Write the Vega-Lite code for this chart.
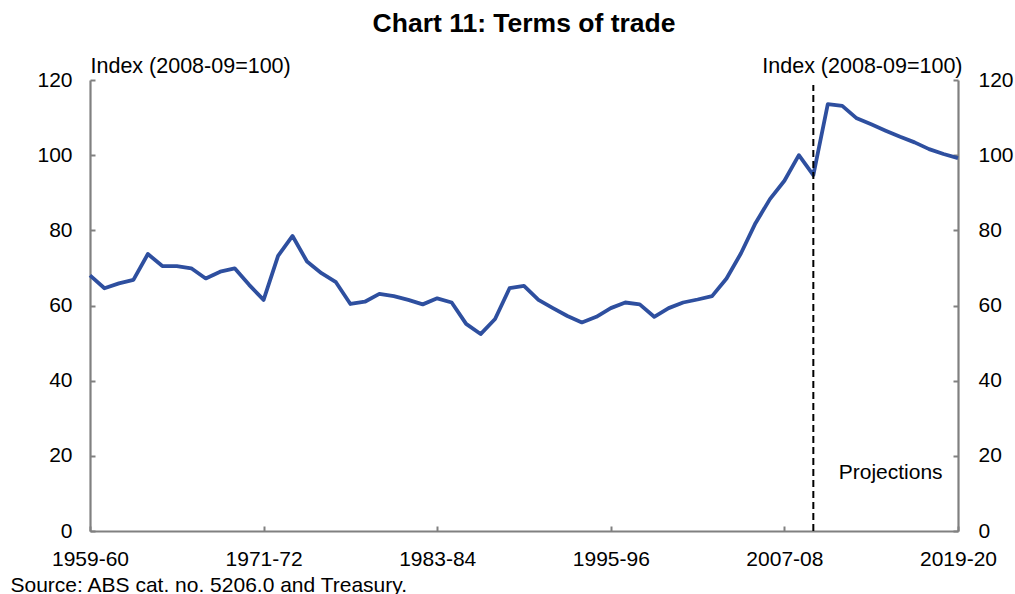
{
  "$schema": "https://vega.github.io/schema/vega-lite/v6.json",
  "width": 868,
  "height": 451,
  "autosize": "none",
  "padding": {"left": 90, "top": 80, "right": 57, "bottom": 63},
  "background": "white",
  "title": {
    "text": "Chart 11: Terms of trade",
    "font": "Liberation Sans",
    "fontSize": 26.5,
    "fontWeight": "bold",
    "color": "#000000",
    "anchor": "middle",
    "frame": "group",
    "baseline": "alphabetic",
    "offset": -3
  },
  "datasets": {
    "tot": [
      {"year": "1959-60", "value": 68.0},
      {"year": "1960-61", "value": 64.6},
      {"year": "1961-62", "value": 65.9},
      {"year": "1962-63", "value": 66.8},
      {"year": "1963-64", "value": 73.7},
      {"year": "1964-65", "value": 70.5},
      {"year": "1965-66", "value": 70.5},
      {"year": "1966-67", "value": 69.9},
      {"year": "1967-68", "value": 67.2},
      {"year": "1968-69", "value": 69.0},
      {"year": "1969-70", "value": 69.9},
      {"year": "1970-71", "value": 65.5},
      {"year": "1971-72", "value": 61.5},
      {"year": "1972-73", "value": 73.2},
      {"year": "1973-74", "value": 78.5},
      {"year": "1974-75", "value": 71.7},
      {"year": "1975-76", "value": 68.6},
      {"year": "1976-77", "value": 66.2},
      {"year": "1977-78", "value": 60.4},
      {"year": "1978-79", "value": 61.0},
      {"year": "1979-80", "value": 63.1},
      {"year": "1980-81", "value": 62.5},
      {"year": "1981-82", "value": 61.5},
      {"year": "1982-83", "value": 60.3},
      {"year": "1983-84", "value": 61.9},
      {"year": "1984-85", "value": 60.8},
      {"year": "1985-86", "value": 55.1},
      {"year": "1986-87", "value": 52.4},
      {"year": "1987-88", "value": 56.4},
      {"year": "1988-89", "value": 64.6},
      {"year": "1989-90", "value": 65.2},
      {"year": "1990-91", "value": 61.5},
      {"year": "1991-92", "value": 59.3},
      {"year": "1992-93", "value": 57.2},
      {"year": "1993-94", "value": 55.5},
      {"year": "1994-95", "value": 57.0},
      {"year": "1995-96", "value": 59.3},
      {"year": "1996-97", "value": 60.8},
      {"year": "1997-98", "value": 60.3},
      {"year": "1998-99", "value": 57.0},
      {"year": "1999-00", "value": 59.3},
      {"year": "2000-01", "value": 60.8},
      {"year": "2001-02", "value": 61.6},
      {"year": "2002-03", "value": 62.5},
      {"year": "2003-04", "value": 67.2},
      {"year": "2004-05", "value": 73.9},
      {"year": "2005-06", "value": 81.9},
      {"year": "2006-07", "value": 88.3},
      {"year": "2007-08", "value": 93.2},
      {"year": "2008-09", "value": 100.0},
      {"year": "2009-10", "value": 94.7},
      {"year": "2010-11", "value": 113.6},
      {"year": "2011-12", "value": 113.1},
      {"year": "2012-13", "value": 109.8},
      {"year": "2013-14", "value": 108.2},
      {"year": "2014-15", "value": 106.5},
      {"year": "2015-16", "value": 104.9},
      {"year": "2016-17", "value": 103.4},
      {"year": "2017-18", "value": 101.6},
      {"year": "2018-19", "value": 100.3},
      {"year": "2019-20", "value": 99.2}
    ],
    "divider": [
      {"year": "2009-10"}
    ],
    "note": [
      {"year": "2014-15", "label": "Projections", "value": 15.4}
    ]
  },
  "layer": [
    {
      "data": {"name": "tot"},
      "mark": {"type": "line", "color": "#2E4F9F", "strokeWidth": 3.8, "strokeJoin": "round"},
      "encoding": {
        "x": {
          "field": "year",
          "type": "ordinal",
          "scale": {"type": "point", "padding": 0},
          "axis": {
            "values": ["1959-60", "1971-72", "1983-84", "1995-96", "2007-08", "2019-20"],
            "labelAngle": 0,
            "labelBaseline": "alphabetic",
            "labelPadding": 39,
            "title": "Source: ABS cat. no. 5206.0 and Treasury.",
            "titleX": -80,
            "titleY": 60,
            "titleAlign": "left",
            "titleAnchor": "start",
            "titleBaseline": "alphabetic",
            "titleFontWeight": "normal"
          }
        },
        "y": {
          "field": "value",
          "type": "quantitative",
          "scale": {"domain": [0, 120], "nice": false},
          "axis": {
            "orient": "left",
            "values": [0, 20, 40, 60, 80, 100, 120],
            "labelPadding": 23,
            "title": "Index (2008-09=100)",
            "titleFontSize": 21.5,
            "titleAngle": 0,
            "titleX": 0,
            "titleY": -8,
            "titleAlign": "left",
            "titleBaseline": "alphabetic",
            "titleFontWeight": "normal"
          }
        }
      }
    },
    {
      "data": {"name": "divider"},
      "mark": {"type": "rule", "color": "#000000", "strokeWidth": 2, "strokeDash": [7, 4]},
      "encoding": {
        "x": {"field": "year", "type": "ordinal"},
        "y": {"datum": 0, "type": "quantitative", "axis": null},
        "y2": {"datum": 118.7}
      }
    },
    {
      "data": {"name": "note"},
      "mark": {"type": "text", "font": "Liberation Sans", "fontSize": 21, "align": "center", "baseline": "middle", "color": "#000000", "dx": 5},
      "encoding": {
        "x": {"field": "year", "type": "ordinal"},
        "text": {"field": "label"},
        "y": {
          "field": "value",
          "type": "quantitative",
          "axis": {
            "orient": "right",
            "values": [0, 20, 40, 60, 80, 100, 120],
            "labelPadding": 25,
            "title": "Index (2008-09=100)",
            "titleFontSize": 21.5,
            "titleAngle": 0,
            "titleX": 4,
            "titleY": -8,
            "titleAlign": "right",
            "titleBaseline": "alphabetic",
            "titleFontWeight": "normal"
          }
        }
      }
    }
  ],
  "resolve": {"scale": {"y": "shared"}, "axis": {"y": "independent"}},
  "config": {
    "view": {"stroke": null},
    "axis": {
      "grid": false,
      "domainColor": "#808080",
      "domainWidth": 2.2,
      "tickColor": "#808080",
      "tickWidth": 2,
      "tickSize": -5,
      "labelFont": "Liberation Sans",
      "labelFontSize": 21,
      "labelColor": "#000000",
      "titleFont": "Liberation Sans",
      "titleFontSize": 21,
      "titleColor": "#000000"
    }
  }
}
